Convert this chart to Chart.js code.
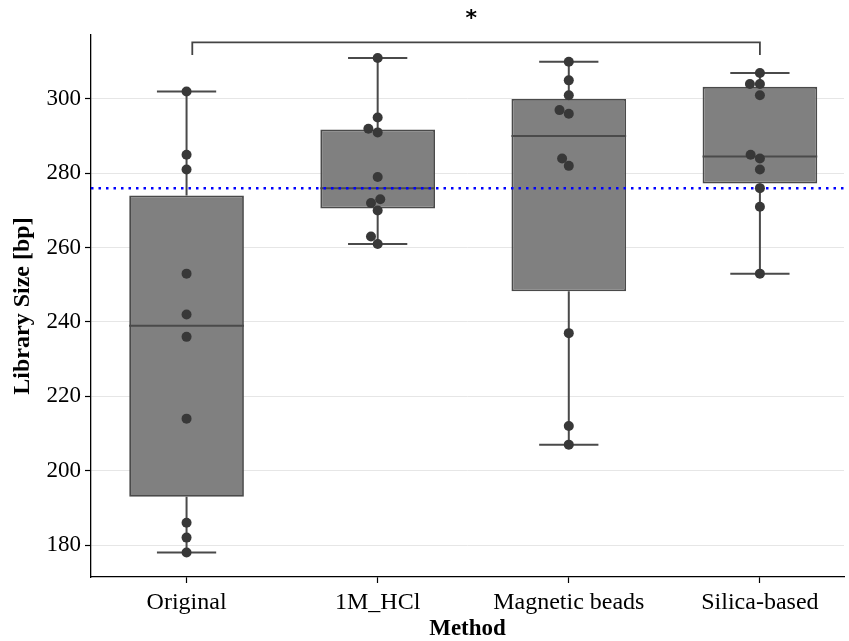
<!DOCTYPE html>
<html>
<head>
<meta charset="utf-8">
<script src="https://cdn.jsdelivr.net/npm/chart.js@4.4.1/dist/chart.umd.min.js"></script>
<style>
  html, body { margin: 0; padding: 0; background: #fff; }
</style>
</head>
<body>
<canvas id="chart" width="849" height="641"></canvas>
<script>
// data
const methods = ['Original', '1M_HCl', 'Magnetic beads', 'Silica-based'];
const original = [302, 285, 281, 253, 242, 236, 214, 186, 182, 178];
const hcl = [311, 295, 292, 291, 279, 273, 272, 270, 263, 261];
const magnetic = [310, 305, 301, 297, 296, 284, 282, 237, 212, 207];
const silica = [307, 304, 304, 301, 285, 284, 281, 276, 271, 253];
const groups = [original, hcl, magnetic, silica];
const refLine = 276;
const yTicks = [180, 200, 220, 240, 260, 280, 300];
const bracketFrom = 0, bracketTo = 3, bracketLabel = '*';

const serif = '"Liberation Serif", "Times New Roman", serif';
const lineGray = '#4a4a4a';

// numpy-style linear quantile
function quantile(arr, q) {
  const s = [...arr].sort((a, b) => a - b);
  const pos = (s.length - 1) * q;
  const lo = Math.floor(pos), hi = Math.ceil(pos);
  return s[lo] + (s[hi] - s[lo]) * (pos - lo);
}

function boxStats(arr) {
  const q1 = quantile(arr, 0.25), q3 = quantile(arr, 0.75);
  const iqr = q3 - q1;
  const inside = arr.filter(v => v >= q1 - 1.5 * iqr && v <= q3 + 1.5 * iqr);
  return { q1, q3, med: quantile(arr, 0.5), lo: Math.min(...inside), hi: Math.max(...inside) };
}

// rough beeswarm: place points in ascending order as close to the centre as possible
const PX_X = 191.3, PX_Y = 3.717, DOT = 10;
function swarm(arr, center) {
  const placed = [];
  [...arr].sort((a, b) => a - b).forEach(v => {
    const cands = [0];
    placed.forEach(p => {
      const dy = (v - p.v) * PX_Y;
      if (Math.abs(dy) < DOT) {
        const dx = Math.sqrt(DOT * DOT - dy * dy);
        cands.push(p.dx - dx, p.dx + dx);
      }
    });
    cands.sort((a, b) => Math.abs(a) - Math.abs(b) || a - b);
    const ok = cands.find(c => placed.every(p => {
      const dy = (v - p.v) * PX_Y, dx = c - p.dx;
      return dx * dx + dy * dy >= DOT * DOT - 0.01;
    }));
    placed.push({ v, dx: ok });
  });
  return placed.map(p => ({ x: center + p.dx / PX_X, y: p.v }));
}

const stats = groups.map(boxStats);
const boxHalf = 0.3, capHalf = 0.155;

const boxData = stats.map((s, i) => ({ x: i, y: [s.q1, s.q3] }));
const lineData = [];
stats.forEach((s, i) => {
  lineData.push({ x: i, y: s.q3 }, { x: i, y: s.hi }, { x: i, y: null });
  lineData.push({ x: i, y: s.q1 }, { x: i, y: s.lo }, { x: i, y: null });
  lineData.push({ x: i - capHalf, y: s.hi }, { x: i + capHalf, y: s.hi }, { x: i, y: null });
  lineData.push({ x: i - capHalf, y: s.lo }, { x: i + capHalf, y: s.lo }, { x: i, y: null });
  lineData.push({ x: i - boxHalf, y: s.med }, { x: i + boxHalf, y: s.med }, { x: i, y: null });
});
const pointData = groups.flatMap((g, i) => swarm(g, i));

const allMax = Math.max(...groups.flat());
const bracketTop = allMax + 4.2, bracketFoot = allMax + 0.8;
const bracketData = [
  { x: bracketFrom + 0.03, y: bracketFoot }, { x: bracketFrom + 0.03, y: bracketTop },
  { x: bracketTo, y: bracketTop }, { x: bracketTo, y: bracketFoot }
];

const X_MIN = -0.5, X_MAX = 3.44;

const sigPlugin = {
  id: 'sigLabel',
  afterDraw(chart) {
    const { ctx, scales: { x, y } } = chart;
    ctx.save();
    ctx.font = 'bold 22px "DejaVu Sans"';
    ctx.fillStyle = '#000';
    ctx.textAlign = 'center';
    ctx.textBaseline = 'alphabetic';
    ctx.fillText(bracketLabel, x.getPixelForValue((bracketFrom + bracketTo) / 2 - 0.01), y.getPixelForValue(bracketTop) - 17);
    ctx.restore();
  }
};

new Chart(document.getElementById('chart'), {
  type: 'bar',
  data: {
    datasets: [
      {
        type: 'bar', data: boxData, order: 5,
        backgroundColor: '#808080', borderColor: lineGray, borderWidth: 1.8,
        barPercentage: 0.6, categoryPercentage: 1, borderSkipped: false
      },
      {
        type: 'line', data: lineData, order: 4,
        borderColor: lineGray, borderWidth: 2, pointRadius: 0, spanGaps: false, fill: false
      },
      {
        type: 'line', data: [{ x: X_MIN, y: refLine }, { x: X_MAX, y: refLine }], order: 3,
        borderColor: '#0000ff', borderWidth: 2.5, borderDash: [2.5, 5], pointRadius: 0, fill: false
      },
      {
        type: 'line', data: bracketData, order: 2,
        borderColor: '#444', borderWidth: 1.8, pointRadius: 0, fill: false, clip: false
      },
      {
        type: 'scatter', data: pointData, order: 1,
        backgroundColor: '#383838', borderColor: '#383838', pointRadius: 5, borderWidth: 0
      }
    ]
  },
  options: {
    responsive: false,
    animation: false,
    layout: { padding: { top: 35, right: 0, left: 0, bottom: 0 } },
    plugins: { legend: { display: false }, tooltip: { enabled: false } },
    scales: {
      x: {
        type: 'linear', min: X_MIN, max: X_MAX, offset: false,
        afterBuildTicks: s => { s.ticks = methods.map((m, i) => ({ value: i })); },
        afterFit: s => { s.height = 64; },
        ticks: {
          callback: v => methods[v], color: '#000', padding: 5,
          font: { family: serif, size: 24 }, maxRotation: 0, autoSkip: false
        },
        grid: { offset: false, drawOnChartArea: false, tickLength: 6, tickColor: '#000', tickWidth: 1.2 },
        border: { color: '#000', width: 1.3 },
        title: { display: true, text: 'Method', color: '#000', padding: { top: 1, bottom: 0 },
          font: { family: serif, size: 23, weight: 'bold', lineHeight: 1 } }
      },
      y: {
        min: 171.4, max: 317.2,
        afterBuildTicks: s => { s.ticks = yTicks.map(v => ({ value: v })); },
        afterFit: s => { s.width = 91; },
        ticks: { color: '#000', padding: 4, font: { family: serif, size: 23 } },
        grid: { color: '#e6e6e6', lineWidth: 1, tickLength: 6, tickColor: '#000', tickWidth: 1.2 },
        border: { color: '#000', width: 1.3 },
        title: { display: true, text: 'Library Size [bp]', color: '#000', padding: { top: 8, bottom: 0 },
          font: { family: serif, size: 24, weight: 'bold' } }
      }
    }
  },
  plugins: [sigPlugin]
});
</script>
</body>
</html>
